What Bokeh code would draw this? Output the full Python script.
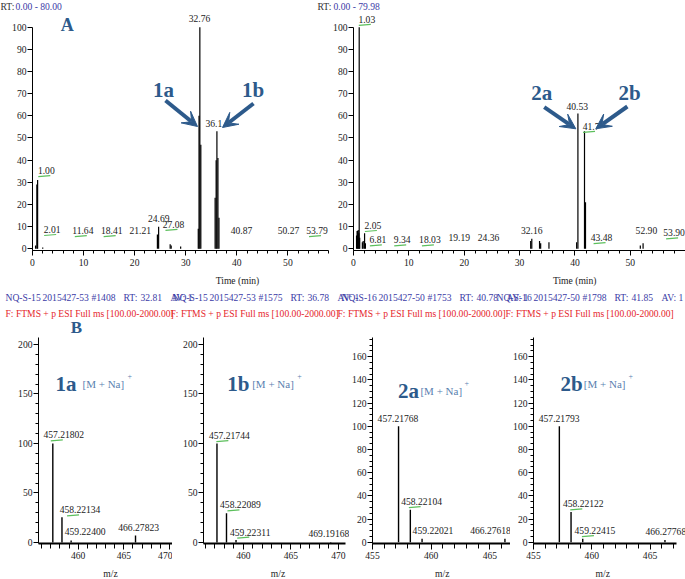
from bokeh.plotting import figure
from bokeh.layouts import row, column
from bokeh.models import (Range1d, Label, Arrow, VeeHead, SingleIntervalTicker,
                          ColumnDataSource)
from bokeh.core.properties import value
from bokeh.embed import file_html
from bokeh.resources import INLINE

# ---------------- data ----------------
# Chromatogram NQ-S-15 (left)
c1_rt = [0.6, 0.85, 1.00, 2.0, 24.45, 24.69, 26.95, 27.15, 29.0,
         32.45, 32.6, 32.76, 32.95, 35.75, 35.95, 36.10, 36.30, 36.50]
c1_int = [1.5, 29.0, 31.0, 0.6, 6.5, 10.0, 2.0, 1.5, 1.0,
          9.0, 60.0, 100.0, 47.0, 23.0, 40.0, 53.0, 41.0, 14.0]
c1_lab = ["1.00", "2.01", "11.64", "18.41", "21.21", "24.69", "27.08",
          "32.76", "36.1", "40.87", "50.27", "53.79"]
c1_lab_x = [2.7, 3.85, 9.85, 15.5, 21.1, 24.7, 27.6, 32.7, 35.5, 40.9, 50.1, 55.7]
c1_lab_y = [35.3, 8.7, 8.2, 8.2, 8.2, 13.6, 11.0, 104.0, 56.4, 8.2, 8.2, 8.2]
c1_mark = [1, 1, 1, 1, 0, 0, 1, 0, 0, 0, 0, 1]

# Chromatogram NQ-S-16 (right)
c2_rt = [0.55, 0.65, 0.75, 0.85, 0.95, 1.03, 1.12, 1.6, 1.75, 2.0, 2.15,
         32.0, 32.2, 33.6, 33.8, 35.3, 40.3, 40.53, 41.72, 41.9, 51.8, 52.3]
c2_int = [6.0, 8.0, 8.0, 8.5, 7.0, 100.0, 5.0, 3.0, 3.5, 7.0, 2.5,
          3.5, 4.5, 3.5, 2.5, 3.0, 3.0, 61.0, 53.0, 21.0, 1.5, 2.5]
c2_lab = ["1.03", "2.05", "6.81", "9.34", "18.03", "19.19", "24.36", "32.16",
          "40.53", "41.7", "43.48", "52.90", "53.90"]
c2_lab_x = [2.4, 3.5, 4.4, 8.8, 13.8, 19.1, 24.4, 32.2, 40.4, 42.9, 44.8, 52.9, 57.9]
c2_lab_y = [103.5, 10.5, 4.0, 4.0, 4.0, 5.0, 5.0, 8.3, 64.2, 55.2, 5.0, 8.3, 7.2]
c2_mark = [1, 1, 1, 1, 1, 0, 0, 0, 0, 1, 1, 0, 1]

# Mass spectra
s1_mz = [457.21802, 458.22134, 459.22400, 466.27823]
s1_int = [100.0, 25.5, 2.0, 7.0]
s1_lab_x = [458.42, 460.20, 460.76, 466.62]
s1_lab_y = [108.8, 33.0, 11.4, 14.8]
s1_mark = [1, 1, 0, 0]

s2_mz = [457.21744, 458.22089, 459.22311, 469.19168]
s2_int = [100.0, 29.6, 2.5, 0.6]
s2_lab_x = [458.52, 459.69, 460.72, 469.00]
s2_lab_y = [108.0, 38.0, 10.4, 8.8]
s2_mark = [1, 1, 1, 0]

s3_mz = [457.21768, 458.22104, 459.22021, 466.27618]
s3_int = [100.0, 28.0, 3.0, 3.0]
s3_lab_x = [457.17, 459.18, 460.15, 465.05]
s3_lab_y = [107.0, 35.0, 10.0, 10.0]
s3_mark = [0, 1, 0, 0]

s4_mz = [457.21793, 458.22122, 459.22415, 466.27768]
s4_int = [100.0, 26.0, 3.0, 2.0]
s4_lab_x = [457.20, 459.27, 460.27, 466.35]
s4_lab_y = [107.0, 33.0, 10.0, 9.5]
s4_mark = [0, 1, 1, 0]

# scan header texts (one row of pieces per spectrum)
hdr_sample = ["NQ-S-15", "NQ-S-15", "NQ-S-16", "NQ-S-16"]
hdr_file = ["2015427-53", "2015427-53", "2015427-50", "2015427-50"]
hdr_scan = ["#1408", "#1575", "#1753", "#1798"]
hdr_rt = ["32.81", "36.78", "40.78", "41.85"]
hdr_red = "F: FTMS + p ESI Full ms [100.00-2000.00]"
cmp_names = ["1a", "1b", "2a", "2b"]

# ---------------- styles ----------------
FONT = "Liberation Sans Narrow"
FS = "9.6px"
SERIF = "Liberation Serif"
BLUE_T = "#3b3ba6"
RED_T = "#e5262b"
GREEN = "#5cbf5c"
NAVY = "#2d5a8b"
LIGHT = "#5a7fb0"
TXT = "#222222"


def panel(W, H, L, R, T, B, xr, yr, ox, oy):
    """Figure whose frame spans [L, W-R] x [T, H-B]; ox, oy = page offset."""
    p = figure(width=W, height=H, x_range=Range1d(*xr), y_range=Range1d(*yr),
               min_border_left=L, min_border_right=R, min_border_top=T,
               min_border_bottom=B, toolbar_location=None,
               output_backend="svg", title=None)
    p.outline_line_color = None
    p.xgrid.visible = False
    p.ygrid.visible = False
    p.background_fill_color = "white"
    p.border_fill_color = "white"
    fw = W - L - R
    fh = H - T - B

    def cx(px):
        return xr[0] + (px - ox - L) * (xr[1] - xr[0]) / fw

    def cy(py):
        return yr[1] - (py - oy - T) * (yr[1] - yr[0]) / fh
    ppx = fw / (xr[1] - xr[0])
    ppy = fh / (yr[1] - yr[0])
    return p, cx, cy, ppx, ppy


def strip(W, H):
    p = figure(width=W, height=H, x_range=Range1d(0, W), y_range=Range1d(H, 0),
               min_border=0, x_axis_location=None, y_axis_location=None,
               toolbar_location=None, output_backend="svg", title=None)
    p.outline_line_color = None
    p.xgrid.visible = False
    p.ygrid.visible = False
    p.background_fill_color = "white"
    p.border_fill_color = "white"
    return p


def style_axis(ax, major_out, minor_out, standoff, lw=1):
    ax.axis_line_color = "black"
    ax.axis_line_width = lw
    ax.major_tick_line_color = "black"
    ax.minor_tick_line_color = "black"
    ax.major_tick_in = 0
    ax.minor_tick_in = 0
    ax.major_tick_out = major_out
    ax.minor_tick_out = minor_out
    ax.major_label_text_font = FONT
    ax.major_label_text_font_size = FS
    ax.major_label_text_color = TXT
    ax.major_label_standoff = standoff


def txt(p, x, y, s, color=TXT, size=FS, font=FONT, align="left",
        baseline="middle", style="normal"):
    p.add_layout(Label(x=x, y=y, text=s, text_color=color, text_font_size=size,
                       text_font=font, text_align=align, text_baseline=baseline,
                       text_font_style=style))


def gtext(p, xs, ys, ss, color=TXT, align="left"):
    p.text(x=xs, y=ys, text=ss, text_font=value(FONT), text_font_size=FS,
           text_align=align, text_baseline="middle", text_color=color)


def underline(p, lx, ly, mark, ppx, ppy, a, b):
    ux0, ux1, uy0, uy1 = [], [], [], []
    for x, y, m in zip(lx, ly, mark):
        if m:
            ux0.append(x + a / ppx)
            ux1.append(x + b / ppx)
            uy0.append(y - 6 / ppy)
            uy1.append(y - 5 / ppy)
    p.segment(x0=ux0, y0=uy0, x1=ux1, y1=uy1, line_color=GREEN, line_width=1.2)


def chrom(p, rt, inten, labs, lx, ly, mark, ppx, ppy):
    src = ColumnDataSource(dict(x=rt, y0=[0.0] * len(rt), y1=inten))
    p.segment(x0="x", y0="y0", x1="x", y1="y1", source=src,
              line_color="black", line_width=1.2)
    gtext(p, lx, ly, labs, align="center")
    underline(p, lx, ly, mark, ppx, ppy, -8, 4)
    p.xaxis.ticker = SingleIntervalTicker(interval=10, num_minor_ticks=5)
    p.yaxis.ticker = SingleIntervalTicker(interval=10, num_minor_ticks=0)
    style_axis(p.xaxis[0], 5, 3, 3)
    style_axis(p.yaxis[0], 5, 0, 1)
    p.yaxis.bounds = (p.y_range.start, 100)


def spectrum(p, mz, inten, lx, ly, mark, ppx, ppy, yint, ytop):
    src = ColumnDataSource(dict(x=mz, y0=[0.0] * len(mz), y1=inten))
    p.segment(x0="x", y0="y0", x1="x", y1="y1", source=src,
              line_color="black", line_width=1.4)
    labs = ["%.5f" % m for m in mz]
    gtext(p, lx, ly, labs, align="center")
    underline(p, lx, ly, mark, ppx, ppy, -13, -1)
    p.xaxis.ticker = SingleIntervalTicker(interval=5, num_minor_ticks=5)
    p.yaxis.ticker = SingleIntervalTicker(interval=yint,
                                          num_minor_ticks=5 if yint == 50 else 4)
    style_axis(p.xaxis[0], 6, 5, 2, lw=2)
    style_axis(p.yaxis[0], 5, 3, 1)
    p.yaxis.bounds = (p.y_range.start, ytop)


# ---------------- top strip: RT ranges ----------------
top = strip(685, 11)
gtext(top, [0, 317], [4.5, 4.5], ["RT:", "RT:"], color="#333333")
gtext(top, [15, 333], [4.5, 4.5], ["0.00 - 80.00", "0.00 - 79.98"], color=BLUE_T)

# ---------------- chromatograms (page y 11..272) ----------------
chL, cxL, cyL, pxL, pyL = panel(330, 261, 32, 1, 0, 22, (0, 58.14), (-0.77, 107.08), 0, 11)
chrom(chL, c1_rt, c1_int, c1_lab, c1_lab_x, c1_lab_y, c1_mark, pxL, pyL)
chL.xaxis.bounds = (0, 58)
txt(chL, cxL(66.7), cyL(24), "A", color=NAVY, size="18px", font=SERIF,
    align="center", style="bold")
txt(chL, cxL(163), cyL(89.5), "1a", color=NAVY, size="21px", font=SERIF,
    align="center", style="bold")
txt(chL, cxL(252.5), cyL(89.5), "1b", color=NAVY, size="21px", font=SERIF,
    align="center", style="bold")
for (a, b, c, d) in [(165, 100, 197, 126), (253, 103, 222, 127)]:
    chL.add_layout(Arrow(end=VeeHead(size=15, fill_color=NAVY, line_color=NAVY),
                         x_start=cxL(a), y_start=cyL(b), x_end=cxL(c), y_end=cyL(d),
                         line_color=NAVY, line_width=4))

chR, cxR, cyR, pxR, pyR = panel(355, 261, 22, 0, 0, 22, (0, 59.96), (-0.77, 107.08), 330, 11)
chrom(chR, c2_rt, c2_int, c2_lab, c2_lab_x, c2_lab_y, c2_mark, pxR, pyR)
chR.xaxis.bounds = (0, 60)
txt(chR, cxR(540.7), cyR(92), "2a", color=NAVY, size="21px", font=SERIF,
    align="center", style="bold")
txt(chR, cxR(628.8), cyR(92), "2b", color=NAVY, size="21px", font=SERIF,
    align="center", style="bold")
for (a, b, c, d) in [(543.3, 106.7, 575, 128.3), (626.7, 106, 595, 128.3)]:
    chR.add_layout(Arrow(end=VeeHead(size=15, fill_color=NAVY, line_color=NAVY),
                         x_start=cxR(a), y_start=cyR(b), x_end=cxR(c), y_end=cyR(d),
                         line_color=NAVY, line_width=4))

# ---------------- middle strip: axis titles, scan headers, "B" (page y 272..337) ----------------
mid = strip(685, 65)
gtext(mid, [237, 574.2], [8, 8], ["Time (min)", "Time (min)"], align="center")
col_x = [5, 172, 341, 496]
piece_dx = [0, 37, 86, 118, 135, 165]
bx, by, bs = [], [], []
for i, x0 in enumerate(col_x):
    pieces = [hdr_sample[i], hdr_file[i], hdr_scan[i], "RT:", hdr_rt[i], "AV: 1"]
    for dx, s in zip(piece_dx, pieces):
        bx.append(x0 + dx)
        by.append(25)
        bs.append(s)
gtext(mid, bx, by, bs, color=BLUE_T)
red_x = [5, 170, 337, 505]
gtext(mid, red_x, [41] * 4, [hdr_red] * 4, color=RED_T)
txt(mid, 75.8, 54.5, "B", color=NAVY, size="17px", font=SERIF,
    align="center", style="bold")

# ---------------- spectra (page y 337..564) ----------------
SP_TOP = 337
specs = [
    dict(W=172, L=38, R=0, xr=(455.65, 470.33), yr=(-1.01, 207.07), yint=50, ytop=207,
         xb=None, mz=s1_mz, it=s1_int, lx=s1_lab_x, ly=s1_lab_y, mk=s1_mark,
         nm=(55, 383), br=(82, 383), sup=(127, 375)),
    dict(W=177, L=31, R=0, xr=(455.8, 471.17), yr=(-1.01, 207.07), yint=50, ytop=207,
         xb=(455.8, 470.7), mz=s2_mz, it=s2_int, lx=s2_lab_x, ly=s2_lab_y, mk=s2_mark,
         nm=(226.7, 383), br=(251.7, 383), sup=(296.7, 375)),
    dict(W=161, L=20, R=0, xr=(455.0, 466.75), yr=(-1.12, 176.5), yint=20, ytop=176.5,
         xb=None, mz=s3_mz, it=s3_int, lx=s3_lab_x, ly=s3_lab_y, mk=s3_mark,
         nm=(395, 390), br=(418, 390), sup=(463, 382)),
    dict(W=175, L=23, R=0, xr=(455.0, 468.04), yr=(-1.12, 176.5), yint=20, ytop=176.5,
         xb=(455.0, 467.26), mz=s4_mz, it=s4_int, lx=s4_lab_x, ly=s4_lab_y, mk=s4_mark,
         nm=(560, 383.3), br=(583.3, 383.3), sup=(628, 375)),
]
spec_figs = []
ox = 0
for i, s in enumerate(specs):
    p, cx, cy, ppx, ppy = panel(s["W"], 564 - SP_TOP, s["L"], s["R"], 0, 21,
                                s["xr"], s["yr"], ox, SP_TOP)
    spectrum(p, s["mz"], s["it"], s["lx"], s["ly"], s["mk"], ppx, ppy, s["yint"], s["ytop"])
    if s["xb"] is not None:
        p.xaxis.bounds = s["xb"]
    txt(p, cx(s["nm"][0]), cy(s["nm"][1]), cmp_names[i], color=NAVY, size="21px",
        font=SERIF, baseline="alphabetic", style="bold")
    txt(p, cx(s["br"][0]), cy(s["br"][1]), "[M + Na]", color=LIGHT, size="11px",
        font=SERIF, baseline="alphabetic")
    txt(p, cx(s["sup"][0]), cy(s["sup"][1]), "+", color=LIGHT, size="8px",
        font=SERIF, baseline="alphabetic")
    spec_figs.append(p)
    ox += s["W"]

# ---------------- bottom strip: m/z titles (page y 564..579) ----------------
bot = strip(685, 15)
gtext(bot, [110, 277.5, 441.7, 602.3], [8.5] * 4, ["m/z"] * 4, align="center")

layout = column(top, row(chL, chR, spacing=0), mid, row(*spec_figs, spacing=0), bot,
                spacing=0)

open("out.html", "w").write(file_html(layout, INLINE))
